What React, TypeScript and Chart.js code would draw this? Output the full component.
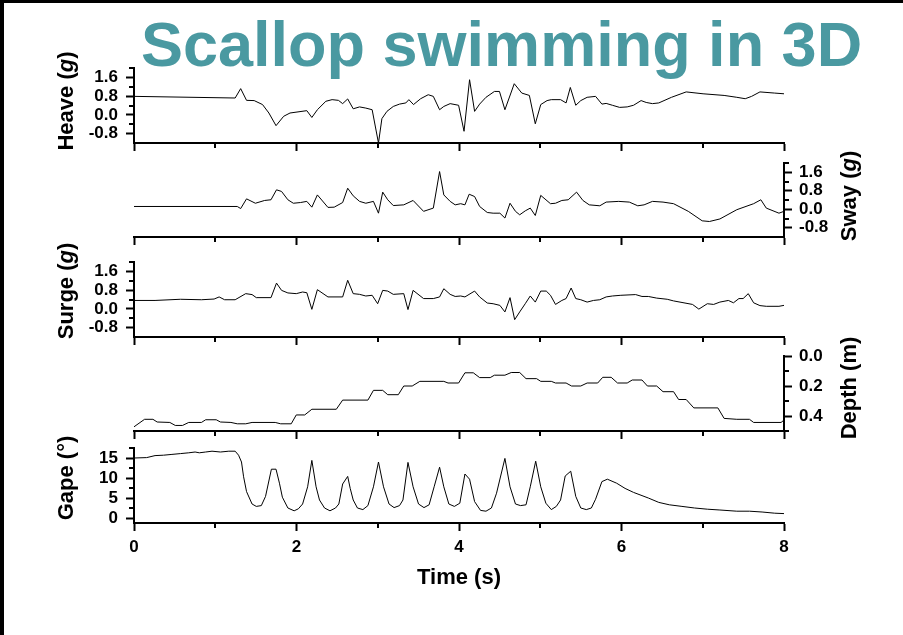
import React, { useEffect, useRef } from 'react';
import { Chart, registerables } from 'chart.js';

Chart.register(...registerables);

const FONT = '"Liberation Sans", Arial, Helvetica, sans-serif';
const PAGE_W = 903;
const PAGE_H = 635;
const PLOT_LEFT = 134;
const PLOT_RIGHT = 784;

const chartTitle = 'Scallop swimming in 3D';
const timeLabel = 'Time (s)';

// ---------- Heave (g) ----------
const heaveTime = [0, 1.245, 1.313, 1.385, 1.479, 1.582, 1.66, 1.748, 1.842, 1.92,
  2.127, 2.189, 2.257, 2.361, 2.438, 2.516, 2.568, 2.63, 2.698, 2.776,
  2.853, 2.931, 3.009, 3.051, 3.113, 3.191, 3.268, 3.346, 3.383, 3.44,
  3.528, 3.621, 3.684, 3.761, 3.813, 3.891, 3.995, 4.062, 4.13, 4.192,
  4.254, 4.332, 4.436, 4.498, 4.565, 4.68, 4.773, 4.866, 4.939, 5.006,
  5.084, 5.136, 5.25, 5.318, 5.37, 5.437, 5.499, 5.577, 5.681, 5.759,
  5.811, 5.888, 5.977, 6.07, 6.148, 6.241, 6.304, 6.381, 6.459, 6.615,
  6.796, 7.004, 7.263, 7.419, 7.523, 7.601, 7.704, 7.886, 8.0];
const heaveG = [0.79, 0.72, 1.12, 0.62, 0.61, 0.44, 0.08, -0.46, -0.06, 0.08,
  0.18, -0.11, 0.22, 0.58, 0.65, 0.62, 0.48, 0.68, 0.26, 0.34,
  0.29, 0.22, -1.2, -0.16, 0.15, 0.36, 0.46, 0.51, 0.65, 0.44,
  0.69, 0.86, 0.79, 0.22, 0.36, 0.48, 0.41, -0.7, 1.5, 0.15,
  0.46, 0.75, 1.0, 1.0, 0.22, 1.33, 0.93, 0.83, -0.38, 0.44,
  0.61, 0.65, 0.65, 0.51, 1.17, 0.41, 0.61, 0.75, 0.79, 0.46,
  0.49, 0.41, 0.32, 0.34, 0.41, 0.61, 0.53, 0.48, 0.51, 0.75,
  0.98, 0.9, 0.83, 0.75, 0.69, 0.79, 0.98, 0.93, 0.9];

// ---------- Sway (g) ----------
const swayTime = [0, 1.271, 1.313, 1.385, 1.494, 1.608, 1.686, 1.754, 1.816, 1.894,
  1.961, 2.049, 2.127, 2.189, 2.257, 2.387, 2.464, 2.568, 2.63, 2.698,
  2.776, 2.853, 2.947, 3.009, 3.061, 3.123, 3.191, 3.32, 3.435, 3.564,
  3.684, 3.761, 3.813, 3.891, 3.953, 4.021, 4.073, 4.125, 4.192, 4.254,
  4.348, 4.42, 4.503, 4.565, 4.628, 4.695, 4.747, 4.815, 4.877, 4.939,
  5.006, 5.126, 5.188, 5.266, 5.344, 5.447, 5.525, 5.603, 5.733, 5.811,
  5.966, 6.096, 6.2, 6.278, 6.381, 6.511, 6.641, 6.822, 6.993, 7.082,
  7.211, 7.419, 7.626, 7.715, 7.782, 7.938, 8.0];
const swayG = [0.12, 0.12, 0.03, 0.45, 0.26, 0.38, 0.41, 0.84, 0.77, 0.41,
  0.26, 0.29, 0.34, 0.09, 0.62, 0.08, 0.09, 0.29, 0.91, 0.58,
  0.34, 0.26, 0.34, -0.17, 0.74, 0.41, 0.16, 0.19, 0.38, -0.09,
  0.05, 1.63, 0.62, 0.34, 0.19, 0.24, 0.19, 0.65, 0.55, 0.12,
  -0.14, -0.17, -0.17, -0.38, 0.26, -0.09, -0.24, -0.07, 0.05, -0.27,
  0.6, 0.24, 0.26, 0.38, 0.41, 0.74, 0.38, 0.19, 0.15, 0.31,
  0.34, 0.31, 0.15, 0.19, 0.34, 0.31, 0.24, -0.09, -0.5, -0.53,
  -0.42, -0.02, 0.24, 0.41, 0.05, -0.17, -0.09];

// ---------- Surge (g) ----------
const surgeTime = [0, 0.259, 0.571, 0.83, 0.986, 1.048, 1.115, 1.245, 1.375, 1.453,
  1.505, 1.686, 1.754, 1.816, 1.894, 1.997, 2.075, 2.127, 2.189, 2.257,
  2.387, 2.568, 2.63, 2.698, 2.776, 2.853, 2.931, 2.999, 3.061, 3.123,
  3.191, 3.32, 3.372, 3.435, 3.564, 3.684, 3.761, 3.813, 3.891, 3.953,
  4.021, 4.073, 4.192, 4.254, 4.348, 4.42, 4.503, 4.565, 4.628, 4.685,
  4.747, 4.815, 4.877, 4.939, 5.006, 5.074, 5.126, 5.188, 5.266, 5.318,
  5.38, 5.437, 5.499, 5.577, 5.655, 5.733, 5.811, 5.888, 5.992, 6.174,
  6.252, 6.33, 6.433, 6.563, 6.641, 6.874, 6.952, 7.056, 7.134, 7.211,
  7.315, 7.378, 7.445, 7.497, 7.56, 7.626, 7.704, 7.782, 7.938, 8.0];
const surgeG = [0.36, 0.36, 0.41, 0.39, 0.42, 0.51, 0.39, 0.39, 0.65, 0.61,
  0.48, 0.48, 1.1, 0.79, 0.68, 0.65, 0.72, 0.69, -0.02, 0.82,
  0.51, 0.51, 1.22, 0.65, 0.62, 0.55, 0.58, 0.22, 0.79, 0.76,
  0.62, 0.65, -0.03, 0.79, 0.44, 0.44, 0.51, 0.86, 0.62, 0.53,
  0.55, 0.51, 0.76, 0.51, 0.25, 0.22, 0.15, -0.13, 0.48, -0.46,
  -0.13, 0.22, 0.55, 0.29, 0.76, 0.76, 0.58, 0.19, 0.36, 0.44,
  0.89, 0.44, 0.39, 0.29, 0.36, 0.39, 0.51, 0.55, 0.58, 0.61,
  0.53, 0.53, 0.46, 0.41, 0.34, 0.19, -0.01, 0.22, 0.19, 0.29,
  0.36, 0.26, 0.44, 0.44, 0.65, 0.26, 0.14, 0.11, 0.11, 0.15];

// ---------- Depth (m) ----------
const depthTime = [0, 0.13, 0.233, 0.285, 0.441, 0.508, 0.597, 0.674, 0.83, 0.882,
  1.012, 1.064, 1.193, 1.271, 1.375, 1.453, 1.738, 1.805, 1.935, 1.997,
  2.101, 2.189, 2.49, 2.568, 2.879, 2.947, 3.061, 3.123, 3.253, 3.32,
  3.424, 3.518, 3.813, 3.865, 3.995, 4.073, 4.176, 4.254, 4.384, 4.436,
  4.565, 4.643, 4.747, 4.825, 4.955, 5.006, 5.136, 5.188, 5.318, 5.385,
  5.499, 5.577, 5.707, 5.769, 5.873, 5.951, 6.07, 6.132, 6.252, 6.319,
  6.433, 6.511, 6.641, 6.703, 6.796, 6.89, 7.186, 7.263, 7.419, 7.575,
  7.626, 7.964, 8.0];
const depthM = [0.472, 0.422, 0.422, 0.44, 0.443, 0.463, 0.463, 0.443, 0.443, 0.425,
  0.425, 0.44, 0.443, 0.452, 0.452, 0.443, 0.443, 0.452, 0.452, 0.393,
  0.393, 0.355, 0.355, 0.294, 0.294, 0.229, 0.229, 0.258, 0.258, 0.2,
  0.2, 0.169, 0.169, 0.18, 0.18, 0.112, 0.112, 0.144, 0.144, 0.128,
  0.128, 0.11, 0.11, 0.151, 0.151, 0.169, 0.169, 0.18, 0.18, 0.2,
  0.2, 0.18, 0.18, 0.142, 0.142, 0.18, 0.18, 0.16, 0.16, 0.2,
  0.2, 0.238, 0.238, 0.29, 0.29, 0.346, 0.346, 0.416, 0.422, 0.422,
  0.443, 0.443, 0.427];

// ---------- Gape (deg) ----------
const gapeTime = [0, 0.156, 0.259, 0.363, 0.467, 0.571, 0.674, 0.752, 0.804, 0.882,
  0.96, 1.064, 1.167, 1.245, 1.287, 1.323, 1.349, 1.385, 1.453, 1.505,
  1.567, 1.619, 1.691, 1.748, 1.79, 1.826, 1.894, 1.971, 2.023, 2.075,
  2.137, 2.189, 2.241, 2.283, 2.345, 2.412, 2.48, 2.521, 2.568, 2.63,
  2.661, 2.698, 2.75, 2.817, 2.879, 2.947, 3.009, 3.071, 3.139, 3.201,
  3.268, 3.31, 3.372, 3.435, 3.502, 3.569, 3.632, 3.694, 3.761, 3.813,
  3.875, 3.943, 4.01, 4.073, 4.13, 4.192, 4.265, 4.332, 4.399, 4.462,
  4.565, 4.628, 4.695, 4.757, 4.825, 4.877, 4.944, 5.006, 5.069, 5.136,
  5.198, 5.25, 5.307, 5.375, 5.437, 5.499, 5.567, 5.629, 5.681, 5.759,
  5.826, 5.94, 6.044, 6.148, 6.33, 6.459, 6.589, 6.744, 6.9, 7.056,
  7.211, 7.419, 7.575, 7.73, 7.886, 8.0];
const gapeDeg = [15.0, 15.1, 15.6, 15.7, 15.9, 16.1, 16.3, 16.5, 16.3, 16.5,
  16.7, 16.5, 16.7, 16.7, 15.7, 14.0, 10.3, 6.6, 3.5, 2.9,
  3.1, 5.4, 12.2, 12.2, 8.7, 5.2, 2.5, 1.8, 2.3, 3.5,
  7.8, 14.4, 7.8, 4.5, 2.5, 1.8, 2.5, 3.5, 8.5, 10.4,
  7.4, 4.5, 2.5, 2.1, 3.1, 7.8, 14.0, 7.8, 3.5, 2.6,
  3.1, 4.5, 13.9, 7.8, 3.5, 2.6, 3.3, 7.8, 12.7, 7.8,
  3.5, 2.9, 3.7, 11.0, 9.7, 4.1, 1.9, 1.7, 2.5, 6.2,
  14.9, 7.8, 3.5, 3.1, 3.3, 7.8, 14.2, 7.8, 3.7, 2.1,
  2.9, 4.5, 10.5, 11.7, 5.4, 2.5, 2.1, 2.5, 4.7, 9.1,
  9.7, 8.7, 7.4, 6.4, 5.0, 3.9, 3.3, 2.9, 2.5, 2.2,
  2.0, 1.7, 1.7, 1.5, 1.2, 1.1];

// ---------- Ticks ----------
const timeTicks = [0, 2, 4, 6, 8];
const timeMinorTicks = [1, 3, 5, 7];
const accelTicks = [-0.8, 0, 0.8, 1.6];
const accelMinorTicks = [-0.4, 0.4, 1.2, 2.0];
const depthTicks = [0, 0.2, 0.4];
const depthMinorTicks = [0.1, 0.3, 0.5];
const gapeTicks = [0, 5, 10, 15];
const gapeMinorTicks = [2.5, 7.5, 12.5, 17.5];

type TitlePart = { text: string; italic?: boolean };

interface PanelSpec {
  id: string;
  time: number[];
  values: number[];
  top: number;
  bottom: number;
  side: 'left' | 'right';
  min: number;
  max: number;
  reverse?: boolean;
  ticks: number[];
  minor: number[];
  decimals: number;
  title: TitlePart[];
  titleX: number;
  titleY: number;
  showTime?: boolean;
  showMainTitle?: boolean;
}

const panels: PanelSpec[] = [
  {
    id: 'heave', time: heaveTime, values: heaveG, top: 68, bottom: 143, side: 'left',
    min: -1.2, max: 2.0, ticks: accelTicks, minor: accelMinorTicks, decimals: 1,
    title: [{ text: 'Heave (' }, { text: 'g', italic: true }, { text: ')' }],
    titleX: 73, titleY: 101, showMainTitle: true,
  },
  {
    id: 'sway', time: swayTime, values: swayG, top: 163, bottom: 237, side: 'right',
    min: -1.2, max: 2.0, ticks: accelTicks, minor: accelMinorTicks, decimals: 1,
    title: [{ text: 'Sway (' }, { text: 'g', italic: true }, { text: ')' }],
    titleX: 856, titleY: 196,
  },
  {
    id: 'surge', time: surgeTime, values: surgeG, top: 262, bottom: 337, side: 'left',
    min: -1.2, max: 2.0, ticks: accelTicks, minor: accelMinorTicks, decimals: 1,
    title: [{ text: 'Surge (' }, { text: 'g', italic: true }, { text: ')' }],
    titleX: 73, titleY: 291,
  },
  {
    id: 'depth', time: depthTime, values: depthM, top: 356, bottom: 431, side: 'right',
    min: 0, max: 0.5, reverse: true, ticks: depthTicks, minor: depthMinorTicks, decimals: 1,
    title: [{ text: 'Depth (m)' }],
    titleX: 856, titleY: 388,
  },
  {
    id: 'gape', time: gapeTime, values: gapeDeg, top: 448, bottom: 523, side: 'left',
    min: -1.25, max: 17.5, ticks: gapeTicks, minor: gapeMinorTicks, decimals: 0,
    title: [{ text: 'Gape (°)' }],
    titleX: 73, titleY: 478, showTime: true,
  },
];

function drawRotatedTitle(ctx: CanvasRenderingContext2D, parts: TitlePart[], bx: number, cy: number, size: number) {
  ctx.save();
  ctx.translate(bx, cy);
  ctx.rotate(-Math.PI / 2);
  ctx.fillStyle = '#000';
  ctx.textBaseline = 'alphabetic';
  ctx.textAlign = 'left';
  const fonts = parts.map((p) => `${p.italic ? 'italic ' : ''}bold ${size}px ${FONT}`);
  let total = 0;
  const widths = parts.map((p, i) => {
    ctx.font = fonts[i];
    const w = ctx.measureText(p.text).width;
    total += w;
    return w;
  });
  let x = -total / 2;
  parts.forEach((p, i) => {
    ctx.font = fonts[i];
    ctx.fillText(p.text, x, 0);
    x += widths[i];
  });
  ctx.restore();
}

function decorPlugin(spec: PanelSpec) {
  return {
    id: 'decor-' + spec.id,
    afterDraw(chart: any) {
      const ctx: CanvasRenderingContext2D = chart.ctx;
      const xs = chart.scales.x;
      const ys = chart.scales.y;
      ctx.save();
      ctx.strokeStyle = '#000';
      ctx.lineWidth = 2;
      ctx.beginPath();
      for (const v of timeMinorTicks) {
        const x = Math.round(xs.getPixelForValue(v));
        ctx.moveTo(x, xs.top);
        ctx.lineTo(x, xs.top + 5);
      }
      const ax = spec.side === 'left' ? ys.right : ys.left;
      const dir = spec.side === 'left' ? -1 : 1;
      for (const v of spec.minor) {
        const y = Math.round(ys.getPixelForValue(v));
        ctx.moveTo(ax, y);
        ctx.lineTo(ax + dir * 5, y);
      }
      ctx.stroke();
      drawRotatedTitle(ctx, spec.title, spec.titleX, spec.titleY, 22);
      if (spec.showTime) {
        ctx.fillStyle = '#000';
        ctx.font = `bold 22px ${FONT}`;
        ctx.textAlign = 'center';
        ctx.textBaseline = 'alphabetic';
        ctx.fillText(timeLabel, (xs.left + xs.right) / 2, 584);
      }
      if (spec.showMainTitle) {
        ctx.fillStyle = '#4a99a1';
        ctx.font = `bold 63px ${FONT}`;
        ctx.textAlign = 'left';
        ctx.textBaseline = 'alphabetic';
        ctx.fillText(chartTitle, 141, 66);
      }
      ctx.restore();
    },
  };
}

function buildConfig(spec: PanelSpec): any {
  const xH = spec.showTime ? 40 : 12;
  const tickFont = { family: FONT, size: 17, weight: 'bold' as const };
  const grid = {
    display: true, drawOnChartArea: false, drawTicks: true, tickLength: 8,
    tickWidth: 2, tickColor: '#000', color: '#000',
  };
  const border = { display: true, color: '#000', width: 2 };
  return {
    type: 'line',
    data: {
      datasets: [{
        data: spec.time.map((t, i) => ({ x: t, y: spec.values[i] })),
        borderColor: '#000',
        borderWidth: 1,
        pointRadius: 0,
        tension: 0,
        fill: false,
      }],
    },
    options: {
      animation: false,
      responsive: false,
      devicePixelRatio: 1,
      events: [],
      layout: {
        padding: {
          left: spec.side === 'left' ? 0 : PLOT_LEFT,
          right: spec.side === 'left' ? PAGE_W - PLOT_RIGHT : 0,
          top: spec.top,
          bottom: PAGE_H - spec.bottom - xH,
        },
      },
      plugins: { legend: { display: false }, tooltip: { enabled: false }, title: { display: false } },
      scales: {
        x: {
          type: 'linear', position: 'bottom', min: 0, max: 8,
          afterBuildTicks: (s: any) => { s.ticks = timeTicks.map((value) => ({ value })); },
          afterFit: (s: any) => { s.height = xH; },
          grid, border,
          ticks: {
            display: !!spec.showTime, autoSkip: false, maxRotation: 0, minRotation: 0, padding: 6,
            color: '#000', font: tickFont, callback: (v: any) => String(v),
          },
        },
        y: {
          type: 'linear', position: spec.side, min: spec.min, max: spec.max, reverse: !!spec.reverse,
          afterBuildTicks: (s: any) => { s.ticks = spec.ticks.map((value) => ({ value })); },
          afterFit: (s: any) => { s.width = spec.side === 'left' ? PLOT_LEFT : PAGE_W - PLOT_RIGHT; },
          grid, border,
          ticks: {
            autoSkip: false, padding: spec.side === 'left' ? 8 : 7, color: '#000', font: tickFont,
            callback: (v: any) => Number(v).toFixed(spec.decimals),
          },
        },
      },
    },
    plugins: [decorPlugin(spec)],
  };
}

function PanelChart({ spec }: { spec: PanelSpec }) {
  const ref = useRef<HTMLCanvasElement>(null);
  useEffect(() => {
    if (!ref.current) return;
    const chart = new Chart(ref.current, buildConfig(spec));
    return () => chart.destroy();
  }, [spec]);
  return (
    <canvas
      ref={ref}
      width={PAGE_W}
      height={PAGE_H}
      style={{ position: 'absolute', left: 0, top: 0, width: PAGE_W, height: PAGE_H }}
    />
  );
}

export default function App() {
  return (
    <div style={{ position: 'absolute', left: 0, top: 0, width: PAGE_W, height: PAGE_H, background: '#fff', overflow: 'hidden' }}>
      {panels.map((p) => <PanelChart key={p.id} spec={p} />)}
      <div style={{ position: 'absolute', left: 0, top: 0, width: PAGE_W, height: 3, background: '#000' }} />
      <div style={{ position: 'absolute', left: 0, top: 0, width: 4, height: PAGE_H, background: '#000' }} />
    </div>
  );
}
